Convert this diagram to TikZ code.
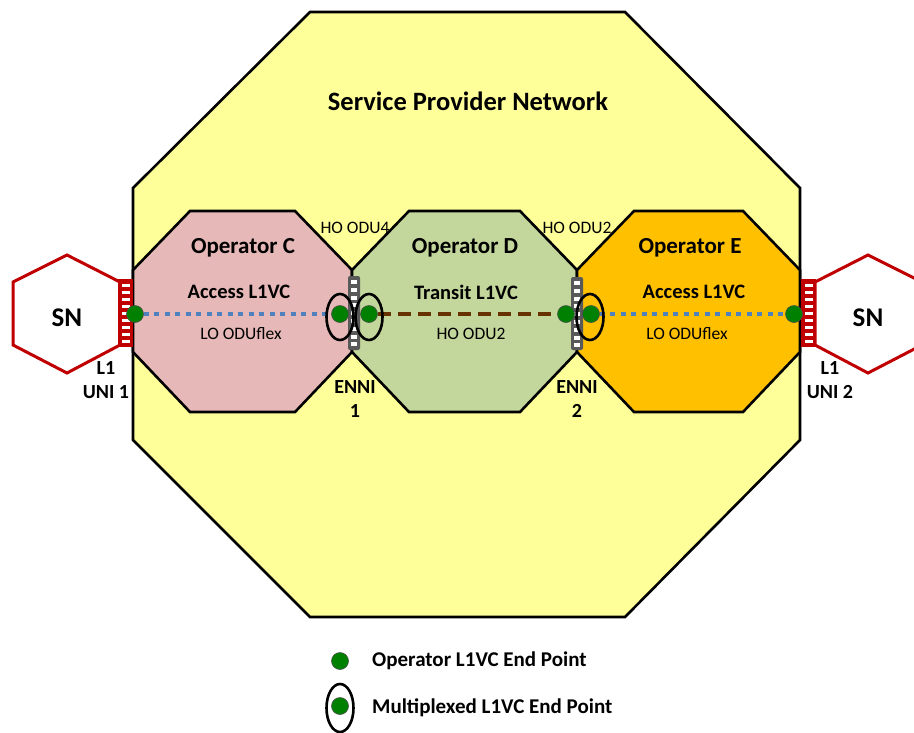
\documentclass[tikz,border=0pt]{standalone}
\usepackage{fontspec}
\setmainfont{Carlito}
\usetikzlibrary{shapes.geometric}
\definecolor{spnfill}{HTML}{FFFF99}
\definecolor{cfill}{HTML}{E6B9B8}
\definecolor{dfill}{HTML}{C3D69B}
\definecolor{efill}{HTML}{FFC000}
\definecolor{snred}{HTML}{C00000}
\definecolor{dotgreen}{HTML}{008000}
\definecolor{lineblue}{HTML}{4F81BD}
\definecolor{linebrown}{HTML}{663300}
\definecolor{barGray}{HTML}{595959}
\tikzset{
  octo/.style={draw=black, line width=2.6pt, line join=miter},
  snhex/.style={draw=snred, line width=3pt, fill=white, line join=miter},
  epdot/.style={circle, draw=black!70, line width=0.6pt, fill=dotgreen, minimum size=17pt, inner sep=0pt},
  muxring/.style={ellipse, draw=black, line width=2.6pt, minimum width=27pt, minimum height=46pt, inner sep=0pt},
  bluevc/.style={lineblue, line width=4.5pt, dash pattern=on 5pt off 5.5pt},
  brownvc/.style={linebrown, line width=4.5pt, dash pattern=on 13pt off 7pt},
  bigtxt/.style={font=\fontsize{26.5}{30}\selectfont\bfseries, inner sep=0pt},
  sntxt/.style={font=\fontsize{27}{30}\selectfont\bfseries, inner sep=0pt},
  optxt/.style={font=\fontsize{23}{27}\selectfont\bfseries, inner sep=0pt},
  vctxt/.style={font=\fontsize{20.5}{24}\selectfont\bfseries, inner sep=0pt},
  lbltxt/.style={font=\fontsize{20}{24}\selectfont\bfseries, inner sep=0pt},
  smalltxt/.style={font=\fontsize{17.5}{21}\selectfont, inner sep=0pt},
  legtxt/.style={font=\fontsize{21}{25}\selectfont\bfseries, inner sep=0pt, anchor=west},
}
\begin{document}
\begin{tikzpicture}[x=1pt,y=-1pt]
\useasboundingbox (0,0) rectangle (914,732);
\clip (0,0) rectangle (914,732);
% service provider network
\draw[octo, fill=spnfill] (133,188) -- (310,12) -- (625,12) -- (800,188) -- (800,440) -- (625,617) -- (310,617) -- (133,440) -- cycle;
% operator domains
\draw[octo, fill=cfill] (133,270) -- (190,211) -- (295,211) -- (352,270) -- (352,352) -- (295,412) -- (190,412) -- (133,352) -- cycle;
\draw[octo, fill=dfill] (352,270) -- (409,211) -- (520,211) -- (577,270) -- (577,352) -- (520,412) -- (409,412) -- (352,352) -- cycle;
\draw[octo, fill=efill] (577,270) -- (634,211) -- (743,211) -- (800,270) -- (800,352) -- (743,412) -- (634,412) -- (577,352) -- cycle;
% SN hexagons
\draw[snhex] (67,255) -- (120,282) -- (120,345) -- (67,373) -- (13,345) -- (13,282) -- cycle;
\draw[snhex] (868,255) -- (922,282) -- (922,345) -- (868,373) -- (815,345) -- (815,282) -- cycle;
% UNI blocks
\fill[snred] (118,279) rectangle (133,347);
\fill[snred] (801,279) rectangle (816,347);
\foreach \i in {0,...,8}{
  \fill[white] (122,{284+\i*7}) rectangle (130,{287+\i*7});
  \fill[white] (805,{284+\i*7}) rectangle (813,{287+\i*7});
}
% ENNI bars
\fill[barGray, rounded corners=2pt] (348,276) rectangle (360,350);
\fill[barGray, rounded corners=2pt] (571,277) rectangle (583,350);
\foreach \i in {0,...,8}{
  \fill[white] (351,{280+\i*7.8}) rectangle (357,{284+\i*7.8});
  \fill[white] (574,{281+\i*7.8}) rectangle (580,{285+\i*7.8});
}
% end points
\node[epdot] (u1) at (135,314) {};
\node[epdot] (c2) at (340,314) {};
\node[epdot] (d1) at (369,314) {};
\node[epdot] (d2) at (566,314) {};
\node[epdot] (e1) at (591,314) {};
\node[epdot] (u2) at (794,314) {};
\draw[bluevc] (u1) -- (c2);
\draw[brownvc] (d1) -- (d2);
\draw[bluevc] (e1) -- (u2);
\node[muxring] (m1) at (340,317) {};
\node[muxring] (m2) at (369,317) {};
\node[muxring] (m3) at (590,317) {};
% texts
\node[bigtxt] (spntitle) at (468,101) {Service Provider Network};
\node[optxt] (opc) at (243,248) {Operator C};
\node[optxt] (opd) at (465,248) {Operator D};
\node[optxt] (ope) at (690,248) {Operator E};
\node[vctxt] (vcc) at (239,292) {Access L1VC};
\node[vctxt] (vcd) at (466,292) {Transit L1VC};
\node[vctxt] (vce) at (694,292) {Access L1VC};
\node[smalltxt] (loc) at (241,334) {LO ODUflex};
\node[smalltxt] (hod) at (471,334) {HO ODU2};
\node[smalltxt] (loe) at (687,334) {LO ODUflex};
\node[smalltxt] (ho4) at (355,228) {HO ODU4};
\node[smalltxt] (ho2) at (577,228) {HO ODU2};
\node[lbltxt] (enni1) at (355,387) {ENNI};
\node[lbltxt] (enni1n) at (355,411) {1};
\node[lbltxt] (enni2) at (577,387) {ENNI};
\node[lbltxt] (enni2n) at (577,411) {2};
\node[lbltxt] (l1a) at (106,368) {L1};
\node[lbltxt] (uni1) at (106,392) {UNI 1};
\node[lbltxt] (l1b) at (830,368) {L1};
\node[lbltxt] (uni2) at (830,392) {UNI 2};
\node[sntxt] (sn1) at (67,318) {SN};
\node[sntxt] (sn2) at (868,318) {SN};
% legend
\node[epdot] (legdot) at (340,661) {};
\node[legtxt] (legt1) at (372,661) {Operator L1VC End Point};
\node[epdot] (legdot2) at (340,706) {};
\node[muxring, minimum height=48pt] (legring) at (340,708) {};
\node[legtxt] (legt2) at (372,708) {Multiplexed L1VC End Point};
\end{tikzpicture}
\end{document}
